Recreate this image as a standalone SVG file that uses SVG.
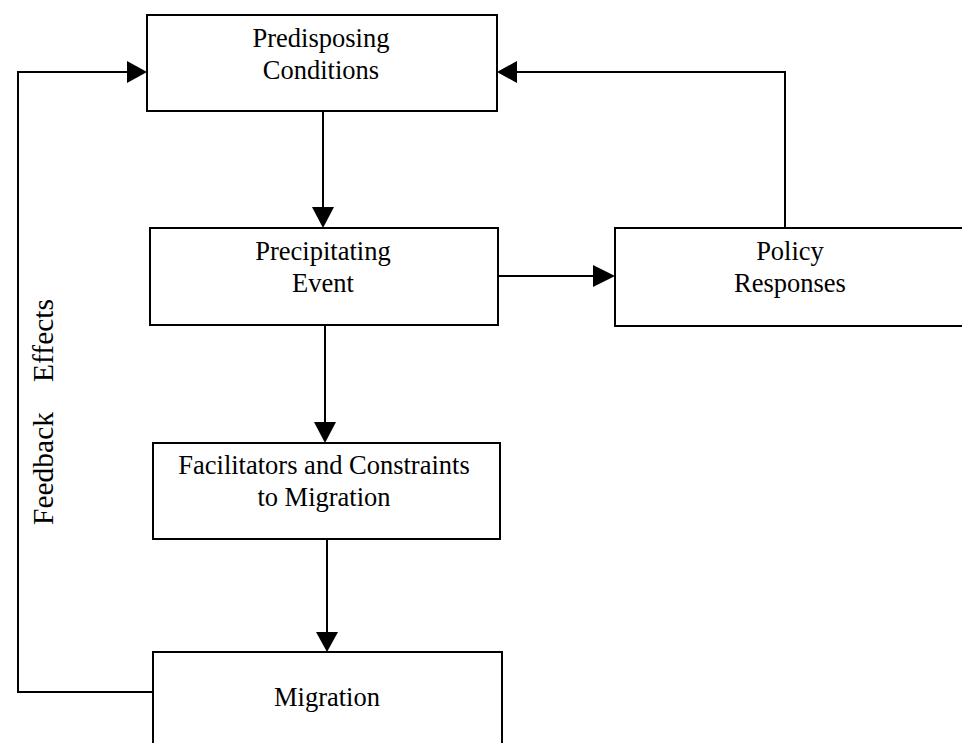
<svg xmlns="http://www.w3.org/2000/svg" width="962" height="743" viewBox="0 0 962 743">
<style>
.box{fill:#fff;stroke:#000;stroke-width:2}
.lbl{font-family:"Liberation Serif","Times New Roman",serif;font-size:26.5px;fill:#000;text-anchor:middle}
.side{font-family:"Liberation Serif","Times New Roman",serif;font-size:29.5px;fill:#000}
.con{fill:none;stroke:#000;stroke-width:2}
.head{fill:#000}
</style>
<rect width="962" height="743" fill="#fff"/>
<g id="connectors">
<path class="con" d="M153,692 H18 V72 H128"/>
<polygon class="head" points="147,72 127,61 127,83"/>
<path class="con" d="M785,228 V72 H516"/>
<polygon class="head" points="497,72 517,61 517,83"/>
<path class="con" d="M498,276 H594"/>
<polygon class="head" points="615,276 593,265 593,287"/>
<path class="con" d="M323,111 V208"/>
<polygon class="head" points="323,228 312,207 334,207"/>
<path class="con" d="M325,325 V423"/>
<polygon class="head" points="325,443 314,422 336,422"/>
<path class="con" d="M327,539 V633"/>
<polygon class="head" points="327,652 316,632 338,632"/>
</g>
<g id="predisposing">
<rect class="box" x="147" y="15" width="350" height="96"/>
<text class="lbl" x="321" y="47">Predisposing</text>
<text class="lbl" x="321" y="79">Conditions</text>
</g>
<g id="precipitating">
<rect class="box" x="150" y="228" width="348" height="97"/>
<text class="lbl" x="323" y="260">Precipitating</text>
<text class="lbl" x="323" y="292">Event</text>
</g>
<g id="policy">
<rect class="box" x="615" y="228" width="360" height="98"/>
<text class="lbl" x="790" y="260">Policy</text>
<text class="lbl" x="790" y="292">Responses</text>
</g>
<g id="facilitators">
<rect class="box" x="153" y="443" width="347" height="96"/>
<text class="lbl" x="324" y="474">Facilitators and Constraints</text>
<text class="lbl" x="324" y="506">to Migration</text>
</g>
<g id="migration">
<rect class="box" x="153" y="652" width="349" height="110"/>
<text class="lbl" x="327" y="706">Migration</text>
</g>
<g id="feedback-label">
<text class="side" x="53" y="525" transform="rotate(-90 53 525)">Feedback</text>
<text class="side" x="53" y="382" transform="rotate(-90 53 382)">Effects</text>
</g>
</svg>
